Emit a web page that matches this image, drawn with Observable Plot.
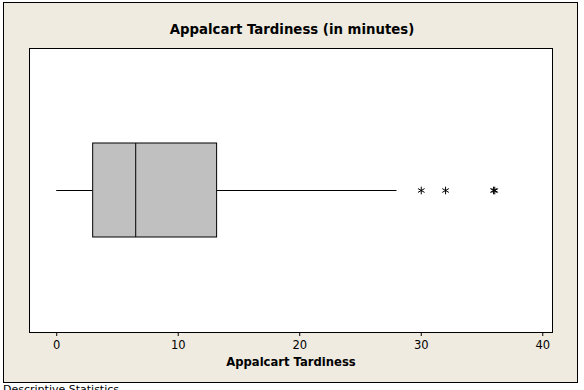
<!DOCTYPE html>
<html>
<head>
<meta charset="utf-8">
<script src="https://cdn.jsdelivr.net/npm/d3@7"></script>
<script src="https://cdn.jsdelivr.net/npm/@observablehq/plot@0.6"></script>
<style>
  html, body { margin: 0; padding: 0; background: #ffffff; }
  body { width: 584px; height: 390px; overflow: hidden; position: relative; font-family: "DejaVu Sans", Verdana, sans-serif; }
  #panel { position: absolute; left: 3px; top: 2px; width: 573px; height: 379px; background: #EFEBE1; border: 1px solid #000; }
  #title { position: absolute; left: 0; top: 22px; width: 584px; text-align: center; font-weight: bold; font-size: 13.3px; color: #000; line-height: 16px; }
  #chart { position: absolute; left: 0; top: 40px; }
  #caption { position: absolute; left: 3px; top: 384px; font-size: 11px; color: #000; line-height: 12px; }
  #chart svg [aria-label="x-axis label"] text { font-weight: bold; font-size: 11.6px; }
</style>
</head>
<body>
<div id="panel"></div>
<div id="title">Appalcart Tardiness (in minutes)</div>
<div id="chart"></div>
<div id="caption">Descriptive Statistics</div>
<script>
// Summary
const series = ["Appalcart Tardiness"];
const whiskerLow = [0];
const q1 = [3.0];
const median = [6.5];
const q3 = [13.2];
const whiskerHigh = [28];
const outliers = [30, 32, 35.95, 36.05];
const xTicks = [0, 10, 20, 30, 40];

const box = series.map((s, i) => ({s, lo: whiskerLow[i], q1: q1[i], med: median[i], q3: q3[i], hi: whiskerHigh[i]}));
const pts = outliers.map(v => ({s: series[0], v}));

const plot = Plot.plot({
  width: 584,
  height: 330,
  marginLeft: 29,
  marginRight: 32,
  marginTop: 8,
  marginBottom: 38,
  style: {background: "transparent", fontFamily: "'DejaVu Sans', Verdana, sans-serif", fontSize: "11.5px", color: "#000"},
  x: {domain: [-2.24, 40.8], label: "Appalcart Tardiness"},
  y: {domain: series, type: "band", padding: 0, axis: null},
  marks: [
    Plot.frame({fill: "#ffffff", stroke: "#000", strokeWidth: 1}),
    Plot.ruleY(box, {y: "s", x1: "lo", x2: "q1", stroke: "#000", strokeWidth: 1}),
    Plot.ruleY(box, {y: "s", x1: "q3", x2: "hi", stroke: "#000", strokeWidth: 1}),
    Plot.barX(box, {y: "s", x1: "q1", x2: "q3", fill: "#C0C0C0", stroke: "#000", strokeWidth: 1, insetTop: 95, insetBottom: 95}),
    Plot.tickX(box, {y: "s", x: "med", stroke: "#000", strokeWidth: 1, insetTop: 95, insetBottom: 95}),
    Plot.dot(pts, {y: "s", x: "v", symbol: "asterisk", r: 3.6, stroke: "#000", strokeWidth: 1}),
    Plot.axisX({ticks: xTicks, tickSize: 4, tickPadding: 4, fontSize: 11.5, labelAnchor: "center", labelArrow: "none", labelOffset: 33, label: "Appalcart Tardiness"})
  ]
});
document.getElementById("chart").appendChild(plot);
</script>
</body>
</html>
